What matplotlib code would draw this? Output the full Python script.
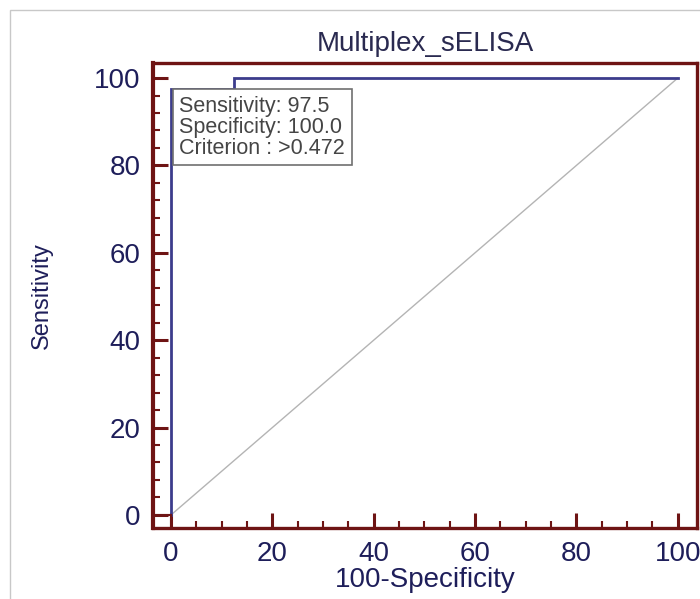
"""
ROC curve plot for Multiplex_sELISA
"""
import matplotlib
matplotlib.use("Agg")
import matplotlib.pyplot as plt
from matplotlib.ticker import MultipleLocator
from matplotlib.patches import Rectangle

# data
fpr = [0, 0, 12.5, 12.5, 100]          # 100-Specificity
tpr = [0, 97.5, 97.5, 100, 100]        # Sensitivity
diag_x = [0, 100]
diag_y = [0, 100]
cut_fpr = 0.0
cut_tpr = 97.5
box_lines = ["Sensitivity: 97.5", "Specificity: 100.0", "Criterion : >0.472"]
title = "Multiplex_sELISA"

# style
plt.rcParams['font.family'] = ['Liberation Sans', 'DejaVu Sans']
SPINE = '#6e1414'
NAVY = '#1e1e5a'
CURVE = '#3c3c8c'

fig = plt.figure(figsize=(7.0, 5.99), dpi=100)
ax = fig.add_axes([0.219, 0.1185, 0.776, 0.776])

# light frame around the picture
fig.patches.append(Rectangle((10 / 700, -0.1), 1.2, 1 - 10 / 599 + 0.1,
                             transform=fig.transFigure, fill=False,
                             edgecolor='#c8c8c8', linewidth=1.0))

ax.plot(diag_x, diag_y, color='#b4b4b4', linewidth=1.0)
ax.plot(fpr, tpr, color=CURVE, linewidth=2.0, solid_joinstyle='miter')

# small marker lines at origin
ax.plot([-3.5, 0], [0, 0], color=SPINE, linewidth=1.5)
ax.plot([0, 0], [-3.0, 0], color=SPINE, linewidth=1.5)

ax.set_xlim(-3.5, 103.7)
ax.set_ylim(-3.0, 103.4)

ax.xaxis.set_major_locator(MultipleLocator(20))
ax.xaxis.set_minor_locator(MultipleLocator(5))
ax.yaxis.set_major_locator(MultipleLocator(20))
ax.yaxis.set_minor_locator(MultipleLocator(4))

ax.tick_params(axis='both', which='both', direction='in', color=SPINE,
               top=False, right=False)
ax.tick_params(axis='both', which='major', length=11, width=2.2,
               labelsize=20, labelcolor=NAVY)
ax.tick_params(axis='both', which='minor', length=5, width=1.5)
ax.tick_params(axis='x', which='major', pad=9.5)
ax.tick_params(axis='y', which='major', pad=9)

for side in ['left', 'bottom', 'top', 'right']:
    ax.spines[side].set_color(SPINE)
    ax.spines[side].set_linewidth(2.4)
ax.spines['left'].set_linewidth(3.0)

ax.set_xlabel("100-Specificity", fontsize=20, color=NAVY, labelpad=0)
ax.set_ylabel("Sensitivity", fontsize=17, color=NAVY, labelpad=30)
ax.set_title(title, fontsize=20, color='#2a2a50', pad=9)

# criterion box anchored at operating point
ax.annotate("\n".join(box_lines), xy=(cut_fpr, cut_tpr),
            xytext=(6, -5), textcoords='offset points',
            ha='left', va='top', fontsize=15.5, color='#454545',
            linespacing=1.0,
            bbox=dict(boxstyle='square,pad=0.3', facecolor='white',
                      edgecolor='#707070', linewidth=1.2))

fig.savefig("out.png", dpi=100)
